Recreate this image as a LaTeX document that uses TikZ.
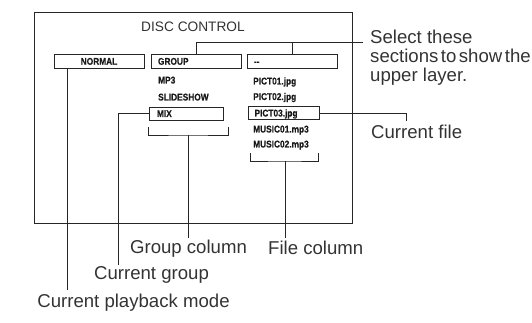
\documentclass[tikz,border=0pt]{standalone}
\usepackage{fontspec}
\setmainfont{Liberation Sans}
\newcommand{\condbold}{\bfseries\addfontfeatures{FakeStretch=0.85,FakeBold=0.4}}
\begin{document}
\begin{tikzpicture}[x=1pt,y=-1pt,
  ln/.style={line width=0.8pt, draw=black!85},
  lbl/.style={inner sep=0pt, text=black!80, font=\fontsize{18.6}{19}\selectfont},
  sm/.style={inner sep=0pt, text=black!90, font=\fontsize{9.8}{10}\selectfont\condbold, text height=7pt, text depth=0pt},
  boxa/.style={sm, draw=black!85, line width=0.8pt, minimum height=14.5pt, text width=#1, inner xsep=7pt, align=left},
  boxb/.style={sm, draw=black!85, line width=0.8pt, minimum height=13pt, text width=#1, inner xsep=8pt, align=left}
]
\useasboundingbox (0,0) rectangle (532,323);
% frame
\draw[ln] (34,12) rectangle (352,223);
\node[lbl, anchor=base, font=\fontsize{13.7}{14}\selectfont] (title) at (193,32) {DISC CONTROL};

% top row boxes
\node[boxa=76pt, align=center] (normal) at (99,61.25) {NORMAL};
\node[boxa=76pt] (group) at (196,61.25) {GROUP};
\node[boxa=76pt] (dash) at (292,61.25) {-{}-};

% group column
\node[sm, anchor=west] (mp3) at (158,80) {MP3};
\node[sm, anchor=west] (slide) at (158,97) {SLIDESHOW};
\node[boxb=58pt] (mix) at (186,113.5) {MIX};

% file column
\node[sm, anchor=west] (p1) at (253,81) {PICT01.jpg};
\node[sm, anchor=west] (p2) at (253,96.5) {PICT02.jpg};
\node[boxb=59pt, inner xsep=6pt] (p3) at (284,113) {PICT03.jpg};
\node[sm, anchor=west] (m1) at (253,129) {MUSIC01.mp3};
\node[sm, anchor=west] (m2) at (253,144) {MUSIC02.mp3};

% labels
\node[lbl, anchor=base west, align=left] (sel1) at (370,43.5) {Select these};
\node[lbl, anchor=base west] (sel2) at (370,62.5) {sections\hspace{2.5pt}to\hspace{2.5pt}show\hspace{2.5pt}the};
\node[lbl, anchor=base west] (sel3) at (370,81.5) {upper layer.};
\node[lbl, anchor=base west] (curfile) at (371,138.5) {Current file};
\node[lbl, anchor=base] (grpcol) at (188.5,253.5) {Group column};
\node[lbl, anchor=base west] (filecol) at (268,254.5) {File column};
\node[lbl, anchor=base] (curgrp) at (151.5,279.5) {Current group};
\node[lbl, anchor=base] (curmode) at (133.5,307.5) {Current playback mode};

% coordinates
\coordinate (selend) at (363,42);
\coordinate (fileend) at (406,121.5);
\coordinate (grpend) at (118,265);
\coordinate (modeend) at (67.5,290);
\coordinate (gbl) at (148,127);
\coordinate (gbr) at (228,127);
\coordinate (gbm) at (188,135);
\coordinate (gcend) at (188,238);
\coordinate (fbl) at (250,153);
\coordinate (fbr) at (318,153);
\coordinate (fbm) at (285,161);
\coordinate (fcend) at (285,238);

% connectors
\draw[ln] (group.north) |- (selend);
\draw[ln] (dash.north) -- (dash.north |- selend);
\draw[ln] (p3.east) -| (fileend);
\draw[ln] (mix.west) -| (grpend);
\draw[ln] (normal.south -| modeend) -- (modeend);
\draw[ln] (gbl) |- (gbm) -| (gbr);
\draw[ln] (gbm) -- (gcend);
\draw[ln] (fbl) |- (fbm) -| (fbr);
\draw[ln] (fbm) -- (fcend);
\end{tikzpicture}
\end{document}
